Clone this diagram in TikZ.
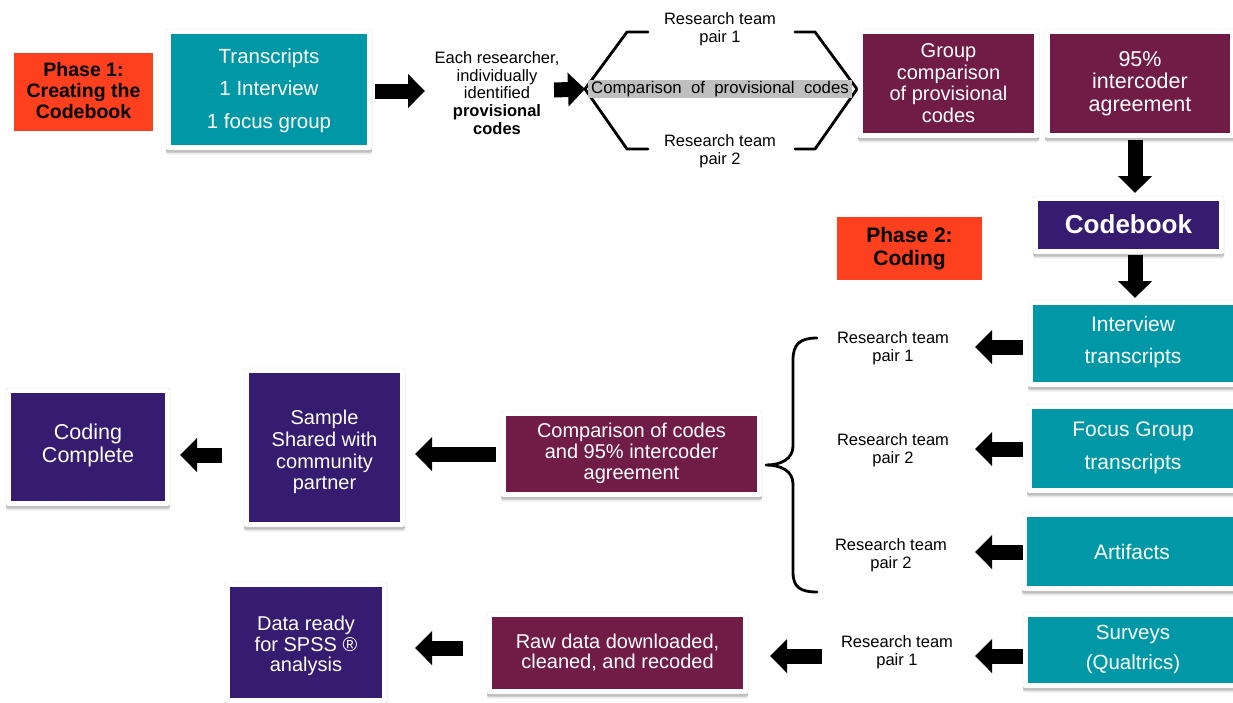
\documentclass[tikz,border=0pt]{standalone}
\usepackage{fontspec}
\setmainfont{Liberation Sans}
\usetikzlibrary{arrows.meta,shadows}

\definecolor{tealbox}{HTML}{0098A6}
\definecolor{maroonbox}{HTML}{711C46}
\definecolor{indigobox}{HTML}{351C70}
\definecolor{phasered}{HTML}{FF401F}
\definecolor{bandgray}{HTML}{BFBFBF}

\tikzset{
  frame/.style={fill=white, draw=black!10, line width=0.4pt, rounded corners=2pt,
    inner sep=0pt, outer sep=0pt,
    drop shadow={shadow xshift=0pt, shadow yshift=-1.5pt, fill=black, opacity=0.12},
    drop shadow={shadow xshift=0pt, shadow yshift=-3pt, fill=black, opacity=0.12},
    drop shadow={shadow xshift=0pt, shadow yshift=-4.5pt, fill=black, opacity=0.07}},
  face/.style={draw=none, inner sep=0pt, outer sep=0pt},
  wtext/.style={text=white, align=center, inner sep=0pt},
  btext/.style={text=black, align=center, inner sep=0pt},
  phasebox/.style={fill=phasered, draw=none, inner sep=0pt, outer sep=0pt},
  fat/.style={line width=15pt, -{Triangle[length=17pt,width=33pt]}},
  bracket/.style={line width=2.8pt, line join=round, line cap=round},
}

% framed panel: name, centre, width, height, colour
\newcommand\panel[5]{%
  \node[frame, minimum width=#3pt+10pt, minimum height=#4pt+10pt] (#1) at (#2) {};
  \node[face, fill=#5, minimum width=#3pt, minimum height=#4pt] at (#2) {};
}
\newcommand\fs[2]{\fontsize{#1}{#2}\selectfont}

\begin{document}
\begin{tikzpicture}[x=1pt,y=-1pt]
\clip (0,0) rectangle (1233,702);
\fill[white] (0,0) rectangle (1233,702);

% ---------------- Phase 1 ----------------
\node[phasebox, minimum width=139pt, minimum height=78pt] (ph1) at (83.5,92) {};
\node[btext, font=\fs{19.5}{21}\bfseries] at (83.5,91) {Phase 1:\\Creating the\\Codebook};

\panel{trans}{269,89.5}{196}{111}{tealbox}
\node[wtext, font=\fs{20.5}{32.5}] at (269,90.5) {Transcripts\\1 Interview\\1 focus group};

\node[btext, font=\fs{16.5}{17.8}] (each) at (497,93)
  {Each researcher,\\individually\\identified\\\textbf{provisional}\\\textbf{codes}};

\coordinate (a1) at (425,91);
\draw[fat] ([xshift=3pt]trans.east |- a1) -- (a1);

% pair comparison brackets
\coordinate (lv) at (585,89);
\coordinate (rv) at (857,89);
\draw[bracket] (648,32) -- (627,32) -- (lv) -- (627,149) -- (648,149);
\draw[bracket] (795,32) -- (815,32) -- (rv) -- (815,149) -- (795,149);
\node[fill=bandgray, draw=none, inner sep=0pt, minimum width=264pt, minimum height=18pt,
      font=\fs{16.8}{18}] (band) at (720,89) {Comparison\ \ of\ \ provisional\ \ codes};
\node[btext, font=\fs{16.5}{18}] (rt1) at (720,29) {Research team\\pair 1};
\node[btext, font=\fs{16.5}{18}] (rt2) at (720,151) {Research team\\pair 2};

\coordinate (a2) at (554,90);
\draw[fat] (a2) -- (lv);

\panel{grp}{948.5,83.5}{171}{99}{maroonbox}
\node[wtext, font=\fs{20}{21.5}] at (948.5,83) {Group\\comparison\\of provisional\\codes};

\panel{pct}{1140,83.5}{180}{99}{maroonbox}
\node[wtext, font=\fs{21.5}{22.5}] at (1140,83.5) {95\%\\intercoder\\agreement};

\panel{cb}{1128.5,225}{181}{48}{indigobox}
\node[wtext, font=\fs{26}{28}\bfseries] at (1128.5,224.5) {Codebook};

\coordinate (d1) at (1135,193);
\draw[fat] (d1 |- pct.south) ++(0,2) -- (d1);

% ---------------- Phase 2 ----------------
\node[phasebox, minimum width=145pt, minimum height=63pt] (ph2) at (909.5,248.5) {};
\node[btext, font=\fs{21}{23}\bfseries] at (909.5,248.5) {Phase 2:\\Coding};

\coordinate (d2) at (1135,298);
\draw[fat] (d2 |- cb.south) ++(0,1) -- (d2);

\panel{intv}{1135.5,343.5}{205}{77}{tealbox}
\node[wtext, font=\fs{21}{32}] at (1133,342) {Interview\\transcripts};

\panel{focus}{1135,448.5}{206}{79}{tealbox}
\node[wtext, font=\fs{21}{33}] at (1133,447.5) {Focus Group\\transcripts};

\panel{arti}{1132.5,551.5}{211}{69}{tealbox}
\node[wtext, font=\fs{21}{24}] at (1132,552) {Artifacts};

\panel{surv}{1133,650}{210}{66}{tealbox}
\node[wtext, font=\fs{20.5}{30}] at (1133,649) {Surveys\\(Qualtrics)};

% team assignments
\node[btext, font=\fs{16.5}{18}] (p1) at (893,348) {Research team\\pair 1};
\node[btext, font=\fs{16.5}{18}] (p2) at (893,450) {Research team\\pair 2};
\node[btext, font=\fs{16.5}{18}] (p3) at (891,555) {Research team\\pair 2};
\node[btext, font=\fs{16.5}{18}] (p4) at (897,652) {Research team\\pair 1};

\coordinate (l1) at (975,347);
\coordinate (l2) at (975,449);
\coordinate (l3) at (975,552);
\coordinate (l4) at (975,656);
\draw[fat] ([xshift=-5pt]intv.west |- l1) -- (l1);
\draw[fat] ([xshift=-4pt]focus.west |- l2) -- (l2);
\draw[fat] ([xshift=1pt]arti.west |- l3) -- (l3);
\draw[fat] ([xshift=0pt]surv.west |- l4) -- (l4);

% curly brace gathering the three coding streams
\draw[bracket] (817,338) .. controls (800,338) and (793,344) .. (793,360)
  -- (793,446) .. controls (793,459) and (781,465) .. (766,465)
  .. controls (781,465) and (793,471) .. (793,484)
  -- (793,572) .. controls (793,587) and (800,592) .. (817,592);

\panel{cmp}{631.5,454}{251}{76}{maroonbox}
\node[wtext, font=\fs{20}{21}] at (631.5,453) {Comparison of codes\\and 95\% intercoder\\agreement};

\panel{samp}{324.5,447.5}{151}{149}{indigobox}
\node[wtext, font=\fs{20}{21.7}] at (324.5,452) {Sample\\Shared with\\community\\partner};

\panel{done}{88,447}{154}{108}{indigobox}
\node[wtext, font=\fs{21.5}{23}] at (88,445) {Coding\\Complete};

\coordinate (m1) at (415,454);
\coordinate (m2) at (180,455);
\draw[fat] ([xshift=-5pt]cmp.west |- m1) -- (m1);
\draw[fat] (222,455) -- (m2);

% survey data path
\panel{raw}{617.5,653}{251}{72}{maroonbox}
\node[wtext, font=\fs{20}{20}] at (617.5,653) {Raw data downloaded,\\cleaned, and recoded};

\panel{ready}{306,642.5}{152}{111}{indigobox}
\node[wtext, font=\fs{20}{20.5}] at (306,646) {Data ready\\for SPSS \textregistered\\analysis};

\coordinate (b1) at (770,656);
\coordinate (b2) at (415,648);
\draw[fat] (822,656) -- (b1);
\draw[fat] (463,648) -- (b2);
\end{tikzpicture}
\end{document}
